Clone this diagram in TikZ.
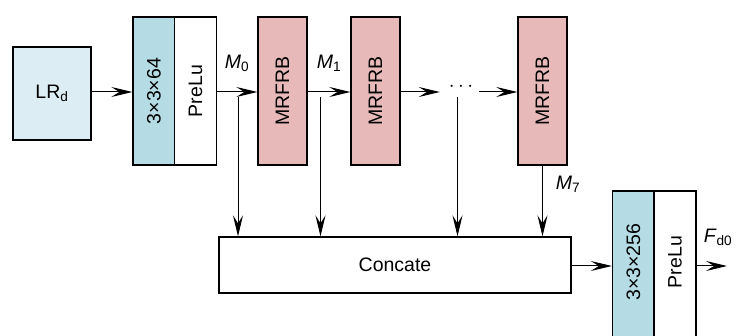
\documentclass[tikz,border=0pt]{standalone}
\usepackage{fontspec}
\setmainfont{Liberation Sans}
\usetikzlibrary{arrows.meta}
\definecolor{lrfill}{RGB}{220,238,244}
\definecolor{convfill}{RGB}{181,220,229}
\definecolor{blockfill}{RGB}{231,185,185}
\tikzset{
  base/.style={draw=black, line width=1.3pt, inner sep=0pt},
  lrbox/.style={base, fill=lrfill, minimum width=78pt, minimum height=93pt},
  convbox/.style={base, fill=convfill, minimum width=42pt},
  actbox/.style={base, fill=white, minimum width=42pt},
  mrbox/.style={base, fill=blockfill, minimum width=49pt, minimum height=148pt},
  catbox/.style={base, fill=white, minimum width=352pt, minimum height=56pt},
  vtext/.style={rotate=90, inner sep=0pt},
  lbl/.style={inner sep=0pt},
  conn/.style={line width=1pt, -{Stealth[length=21pt, width=10pt, inset=8pt]}},
}
\newcommand{\lowtxt}[1]{\textsubscript{#1}}
\begin{document}
\begin{tikzpicture}[x=1pt, y=-1pt, font=\fontsize{19.5}{22}\selectfont]
\useasboundingbox (0,0) rectangle (740,336);
\clip (0,0) rectangle (740,336);

% input and first convolution
\node[lrbox] (lr) at (52,93.5) {LR\lowtxt{d}};
\node[convbox, minimum height=148pt] (conv1) at (154,91) {};
\node[actbox, minimum height=148pt] (act1) at (195.5,91) {};
\node[vtext] (conv1t) at (conv1.center) {3×3×64};
\node[vtext] (act1t) at (act1.center) {PreLu};

% MRFRB chain
\node[mrbox] (mr1) at (282.5,91) {};
\node[mrbox] (mr2) at (375.5,91) {};
\node[mrbox] (mr3) at (542.5,91) {};
\node[vtext] (mr1t) at (mr1.center) {MRFRB};
\node[vtext] (mr2t) at (mr2.center) {MRFRB};
\node[vtext] (mr3t) at (mr3.center) {MRFRB};
\node[inner sep=0pt, minimum width=39pt, minimum height=4pt] (gap) at (459.5,92) {};
\node[lbl] (dots) at (461,87) {$\cdots$};

% fusion
\node[catbox] (cat) at (395,265) {Concate};
\node[convbox, minimum height=160pt] (conv2) at (633.5,271) {};
\node[actbox, minimum height=160pt] (act2) at (675,271) {};
\node[vtext] (conv2t) at (633.5,262) {3×3×256};
\node[vtext] (act2t) at (675,262) {PreLu};
\coordinate (out) at (727,266);

% feature labels
\node[lbl] (m0) at (237,63) {\textit{M}\lowtxt{0}};
\node[lbl] (m1) at (329,63) {\textit{M}\lowtxt{1}};
\node[lbl] (m7) at (568,184) {\textit{M}\lowtxt{7}};
\node[lbl] (fd0) at (718,237) {\textit{F}\lowtxt{d0}};

% taps feeding the concatenation
\coordinate (t0) at (238,97);
\coordinate (t1) at (320.5,97);
\coordinate (t2) at (457.5,97);

% connectors
\draw[conn] (lr.east |- 0,92) -- (conv1.west |- 0,92);
\draw[conn] (act1.east |- 0,92) -- (mr1.west |- 0,92);
\draw[conn] (mr1.east |- 0,92) -- (mr2.west |- 0,92);
\draw[conn] (mr2.east |- 0,92) -- (gap.west);
\draw[conn] (gap.east) -- (mr3.west |- 0,92);
\draw[conn] (t0) -- (t0 |- cat.north);
\draw[conn] (t1) -- (t1 |- cat.north);
\draw[conn] (t2) -- (t2 |- cat.north);
\draw[conn] (mr3.south) -- (mr3.south |- cat.north);
\draw[conn] (cat.east |- out) -- (conv2.west |- out);
\draw[conn] (act2.east |- out) -- (out);
\end{tikzpicture}
\end{document}
